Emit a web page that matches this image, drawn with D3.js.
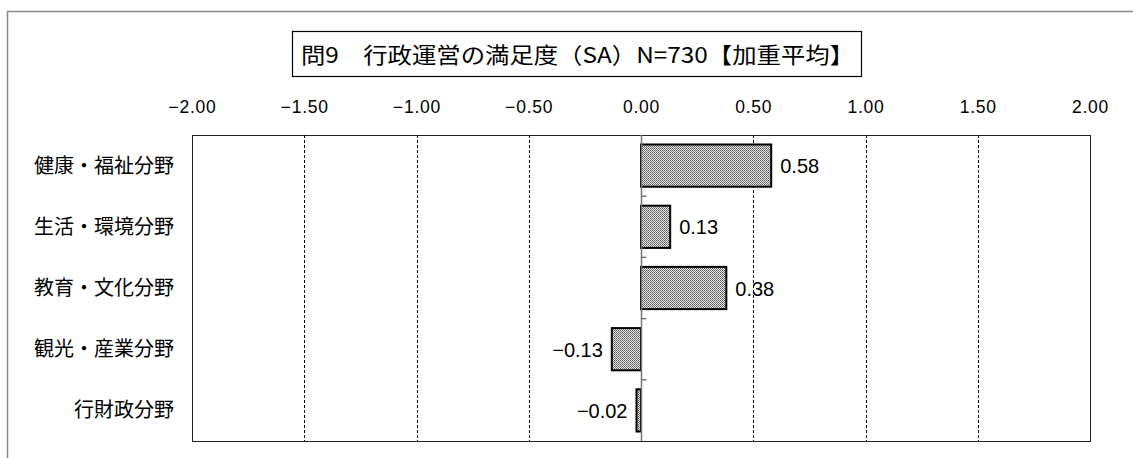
<!DOCTYPE html>
<html><head><meta charset="utf-8">
<script src="https://cdn.jsdelivr.net/npm/d3@7"></script>
<style>
body{margin:0;background:#fff;}
svg{display:block;}
</style></head>
<body>
<svg id="chart" width="1133" height="458"></svg>
<script>
const titleText = "問9\u3000行政運営の満足度（SA）N=730【加重平均】";
const categories = ["健康・福祉分野","生活・環境分野","教育・文化分野","観光・産業分野","行財政分野"];
const values = [0.58, 0.13, 0.38, -0.13, -0.02];
const tickValues = [-2, -1.5, -1, -0.5, 0, 0.5, 1, 1.5, 2];

const svg = d3.select("#chart");
const font = "'Noto Sans CJK JP', 'Liberation Sans', sans-serif";
const numFont = "'Liberation Sans', Arial, sans-serif";
const margin = {left:192, right:1090, top:135, bottom:441};

// pattern
const defs = svg.append("defs");
const pat = defs.append("pattern").attr("id","dots").attr("width",2).attr("height",2).attr("patternUnits","userSpaceOnUse");
pat.append("rect").attr("width",2).attr("height",2).attr("fill","#e4e4e4");
pat.append("rect").attr("x",0).attr("y",0).attr("width",1).attr("height",1).attr("fill","#5a5a5a");
pat.append("rect").attr("x",1).attr("y",1).attr("width",1).attr("height",1).attr("fill","#7a7a7a");

// outer border
svg.append("path").attr("d","M7.5,470 L7.5,11.5 L1140,11.5").attr("fill","none").attr("stroke","#888").attr("stroke-width",1.5);

// title box
svg.append("rect").attr("x",292.5).attr("y",31.5).attr("width",569).attr("height",45)
  .attr("fill","#fff").attr("stroke","#000").attr("stroke-width",1.2);
svg.append("text").attr("x",301).attr("y",62.5)
  .attr("textLength",553).attr("lengthAdjust","spacingAndGlyphs")
  .attr("font-family",font).attr("font-size",22).attr("fill","#000").text(titleText);

const x = d3.scaleLinear().domain([-2,2]).range([margin.left, margin.right]);
const y = d3.scaleBand().domain(categories).range([margin.top, margin.bottom]).paddingInner(0.31).paddingOuter(0.155);

// plot area
svg.append("rect").attr("x",margin.left+0.5).attr("y",margin.top+0.5)
  .attr("width",margin.right-margin.left).attr("height",margin.bottom-margin.top)
  .attr("fill","#fff").attr("stroke","#222").attr("stroke-width",1);

// gridlines
svg.append("g").selectAll("line").data(tickValues.filter(d=>d!==0 && Math.abs(d)!==2)).join("line")
  .attr("x1",d=>Math.round(x(d))+0.5).attr("x2",d=>Math.round(x(d))+0.5)
  .attr("y1",margin.top).attr("y2",margin.bottom)
  .attr("stroke","#000").attr("stroke-width",1).attr("stroke-dasharray","3,2");

// top axis labels
const fmt = d => (d<0 ? "\u2212" : "") + Math.abs(d).toFixed(2);
const axisTop = d3.axisTop(x).tickValues(tickValues).tickFormat(fmt).tickSize(0).tickPadding(0);
const ag = svg.append("g").attr("transform",`translate(0,113)`).call(axisTop);
ag.select(".domain").remove();
ag.selectAll("text").attr("font-family",numFont).attr("font-size",17.5).attr("letter-spacing",0.8).attr("fill","#000");

// bars
svg.append("g").selectAll("rect").data(values).join("rect")
  .attr("x",(d)=>x(Math.min(0,d)))
  .attr("y",(d,i)=>y(categories[i]))
  .attr("width",d=>Math.abs(x(d)-x(0)))
  .attr("height",y.bandwidth())
  .attr("fill","url(#dots)").attr("stroke","#000").attr("stroke-width",2);

// zero axis line with ticks
const zx = Math.round(x(0))+0.5;
svg.append("line").attr("x1",zx).attr("x2",zx).attr("y1",margin.top).attr("y2",margin.bottom)
  .attr("stroke","#777").attr("stroke-width",1.5);
const step = (margin.bottom-margin.top)/categories.length;
svg.append("g").selectAll("line").data(d3.range(1,categories.length)).join("line")
  .attr("x1",zx).attr("x2",zx+5)
  .attr("y1",i=>margin.top+i*step).attr("y2",i=>margin.top+i*step)
  .attr("stroke","#777").attr("stroke-width",1.5);

// value labels
svg.append("g").selectAll("text").data(values).join("text")
  .attr("x",d=> d>=0 ? x(d)+9 : x(d)-9)
  .attr("y",(d,i)=>y(categories[i])+y.bandwidth()/2+7.5)
  .attr("text-anchor",d=> d>=0 ? "start":"end")
  .attr("font-family",numFont).attr("font-size",20).attr("fill","#000")
  .text(d=>fmt(d));

// category labels
svg.append("g").selectAll("text").data(categories).join("text")
  .attr("x",174).attr("y",d=>y(d)+y.bandwidth()/2+7)
  .attr("text-anchor","end").attr("font-family",font).attr("font-size",20).attr("fill","#000")
  .text(d=>d);
</script>
</body></html>
